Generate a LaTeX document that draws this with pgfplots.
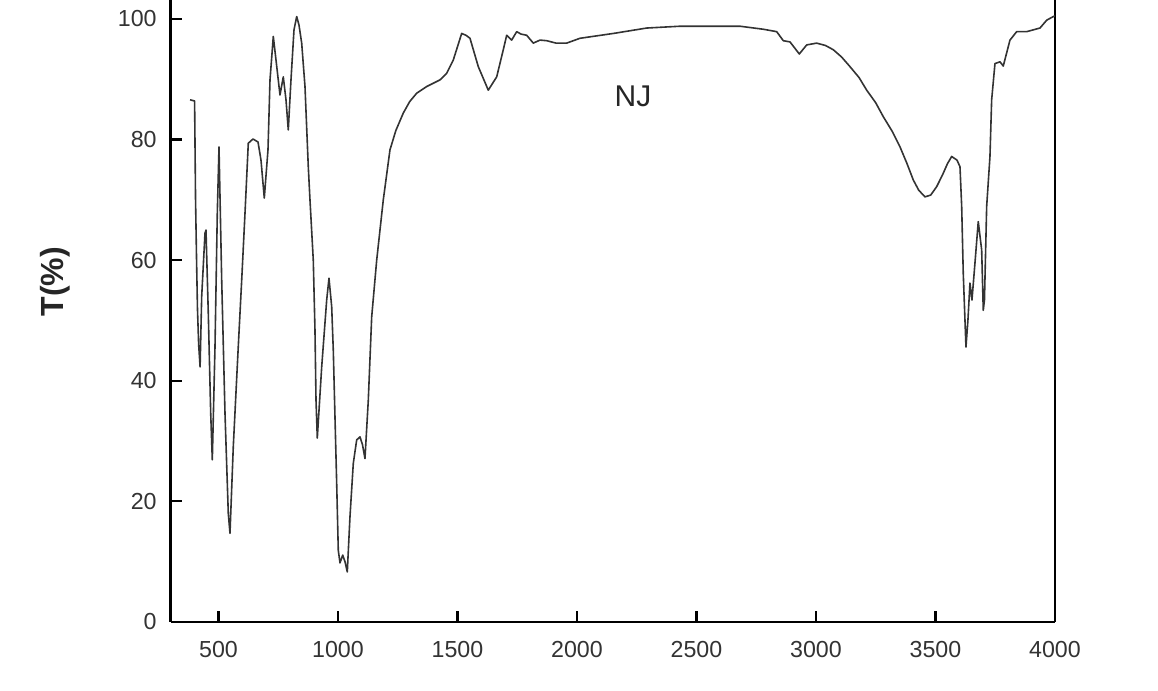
\documentclass[border=0pt]{standalone}
\usepackage{fontspec}
\setmainfont{Liberation Sans}
\usepackage{pgfplots}
\pgfplotsset{compat=1.18}

\begin{document}
\begin{tikzpicture}
\begin{axis}[
    at={(0,0)}, anchor=south west,
    scale only axis,
    width=442.15pt, height=311pt,
    xmin=300, xmax=4000,
    ymin=0, ymax=103.15,
    axis x line*=bottom,
    axis y line*=box,
    ytick pos=left,
    tick align=inside,
    xtick={500,1000,...,4000},
    ytick={0,20,...,100},
    major tick length=5.5pt,
    axis line style={line width=1.3pt, black},
    every tick/.style={line width=1.1pt, black},
    tick label style={font=\fontsize{11.6}{13}\selectfont, text=black!80},
    /pgf/number format/assume math mode=true,
    /pgf/number format/set thousands separator={},
    xticklabel style={yshift=-6pt},
    yticklabel style={xshift=-3.5pt},
    ylabel={T(\%)},
    every axis y label/.style={at={(axis description cs:-0.1308,0.547)}, rotate=90, anchor=center,
        font=\fontsize{16}{18}\selectfont\bfseries, text=black!85},
]
\addplot[black!80, line width=0.8pt, line join=round] coordinates {
(381,86.6) (400,86.4) (404,70) (408,60.5) (412,52) (417,46) (423,42.3)
(429.7,54) (443.5,64.5) (447.7,65.0)
(457.3,51.2) (467.4,34.6) (474.1,26.9)
(485.4,45.7) (495,67.8) (502.1,78.8)
(513.4,56.7) (527.2,34.6) (541,18) (548.1,14.7)
(561.9,29.1) (582.8,45.7) (597.1,56.7) (610.9,67.8) (624.7,79.4) (644.3,80.1) (665.3,79.6) (677.8,76.6) (691.6,70.3)
(707.1,78.3) (715.5,89.9) (729.3,97.1) (740.6,93.2) (757.3,87.4) (771.1,90.4) (782.4,86.6) (792,81.6)
(803.3,89.9) (815.9,98.2) (827.2,100.4) (836.8,99) (848.1,96) (861.9,88.8) (875.7,75.5) (882.8,70)
(896.6,60) (903.7,48.4) (908,36.8) (913.4,30.5)
(931.8,42.3) (952.7,53.4) (962.3,57.0) (973.6,52.3) (980.3,45.1) (987.4,34) (994.5,23) (1001.2,11.9)
(1008.4,9.8) (1019.6,11.1) (1029.3,10) (1038.9,8.3)
(1050.2,17.5) (1064,26.3) (1078.2,30.2) (1092,30.7) (1102.5,29.4) (1112.9,27.1)
(1126.8,36.8) (1141,50.6) (1161.9,60) (1189.5,70) (1217.5,78.3) (1242,81.5) (1273.2,84.4) (1300,86.3) (1329.3,87.7) (1371.1,88.8)
(1426.7,89.9) (1454.8,91) (1482.4,93.2) (1517.5,97.6) (1535.5,97.3) (1552.3,96.8) (1587,92.1) (1628.8,88.2)
(1664,90.4) (1691.6,94.9) (1705.8,97.3) (1726.7,96.5) (1747.7,97.9) (1765.6,97.5) (1789.5,97.3) (1817.1,96.0)
(1845.2,96.5) (1873.2,96.4) (1912.1,96) (1956.9,96) (2012.5,96.8) (2151.8,97.6) (2291.6,98.5) (2431.1,98.8)
(2682,98.8) (2779.5,98.3) (2835.5,97.9) (2863.2,96.4) (2891.2,96.2) (2930.1,94.2) (2961.1,95.7) (3002.9,96)
(3040,95.6) (3072.4,94.9) (3107,93.7) (3142.2,92.1) (3180,90.3) (3212.1,88.2) (3250,86.1) (3281.5,83.8) (3320,81.3)
(3351.4,78.8) (3380,76.1) (3407.1,73.3) (3430,71.6) (3456,70.5) (3480,70.8) (3505,72.2) (3530,74.2) (3550,76.0)
(3567.7,77.2) (3589.9,76.6) (3602.5,75.5) (3609.6,68.9) (3616.2,57.8) (3623.3,50.1) (3627.5,45.6)
(3635.8,50.1) (3644.2,56.2) (3652.6,53.4) (3665.1,59.5) (3678.9,66.4) (3693.2,61.7) (3699.9,51.7) (3704.9,53.4)
(3714.1,68.9) (3727.9,77.2) (3735,86.6) (3748.8,92.6) (3769.8,92.9) (3783.6,92.2) (3811.6,96.5) (3839.7,97.9)
(3881.5,97.9) (3937.2,98.5) (3965.2,99.8) (3992.8,100.4) (4000,100.5)
};
\node[font=\fontsize{15}{17}\selectfont, text=black!85] at (axis cs:2234,87.1) {NJ};
\end{axis}
\pgfresetboundingbox
\path[use as bounding box] (-85.35pt,-34.5pt) rectangle (493.65pt,311pt);
\end{tikzpicture}
\end{document}
